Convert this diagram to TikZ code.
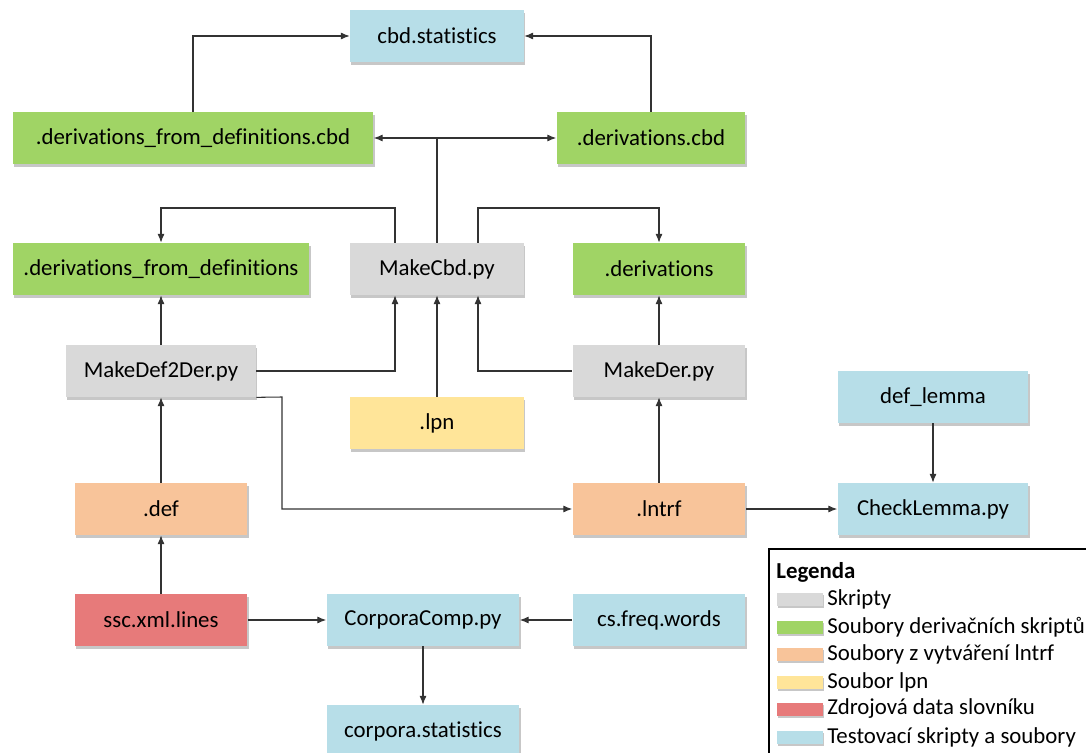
\documentclass[tikz,border=0pt]{standalone}
\usepackage{fontspec}
\setmainfont{Carlito}[Ligatures=NoCommon]
\usetikzlibrary{arrows.meta,calc,shadows}

\definecolor{cblue}{HTML}{B7DEE8}
\definecolor{cgreen}{HTML}{A0D465}
\definecolor{cgray}{HTML}{D9D9D9}
\definecolor{corange}{HTML}{F8C49A}
\definecolor{cyellow}{HTML}{FFE599}
\definecolor{cred}{HTML}{E77A7A}

\begin{document}
\begin{tikzpicture}[x=0.02cm, y=-0.02cm,
  box/.style={rectangle, minimum height=1.04cm, inner sep=0pt,
    font=\fontsize{13}{15}\selectfont,
    drop shadow={shadow xshift=0.6pt, shadow yshift=-1.6pt, fill=black, opacity=0.22}},
  arr/.style={draw=black!80, line width=0.6pt, -{Latex[length=5pt,width=4pt]}}]

\useasboundingbox (0,0) rectangle (1086,753);
\clip (0,0) rectangle (1086,753);

% Boxes placed at pixel coordinates
\node[box, fill=cblue,   minimum width=3.48cm] (stats)    at (437,36)  {cbd.statistics};
\node[box, fill=cgreen,  minimum width=7.22cm] (dfdcbd)   at (193,138) {.derivations\_from\_definitions.cbd};
\node[box, fill=cgreen,  minimum width=3.78cm] (dercbd)   at (651,138) {.derivations.cbd};
\node[box, fill=cgreen,  minimum width=5.94cm] (dfd)      at (161,269) {.derivations\_from\_definitions};
\node[box, fill=cgray,   minimum width=3.48cm] (makecbd)  at (437,269) {MakeCbd.py};
\node[box, fill=cgreen,  minimum width=3.46cm] (der)      at (659,269) {.derivations};
\node[box, fill=cgray,   minimum width=3.80cm] (makedef)  at (161,371) {MakeDef2Der.py};
\node[box, fill=cgray,   minimum width=3.46cm] (makeder)  at (659,371) {MakeDer.py};
\node[box, fill=cyellow, minimum width=3.48cm] (lpn)      at (437,423) {.lpn};
\node[box, fill=cblue,   minimum width=3.82cm] (deflemma) at (933,397) {def\_lemma};
\node[box, fill=corange, minimum width=3.46cm] (def)      at (161,509) {.def};
\node[box, fill=corange, minimum width=3.46cm] (lntrf)    at (659,509) {.lntrf};
\node[box, fill=cblue,   minimum width=3.82cm] (check)    at (933,509) {CheckLemma.py};
\node[box, fill=cred,    minimum width=3.46cm] (ssc)      at (161,620) {ssc.xml.lines};
\node[box, fill=cblue,   minimum width=3.86cm] (corpcomp) at (423,620) {CorporaComp.py};
\node[box, fill=cblue,   minimum width=3.46cm] (csfreq)   at (659,620) {cs.freq.words};
\node[box, fill=cblue,   minimum width=3.86cm] (corpstat) at (423,731) {corpora.statistics};

% Connectors
\draw[arr] (dfdcbd.north) |- (stats.west);
\draw[arr] (dercbd.north) |- (stats.east);
\draw[arr] (makecbd.north) |- (dfdcbd.east);
\draw[arr] (makecbd.north) |- (dercbd.west);
\draw[arr] ($(makecbd.north)+(-42,0)$) |- (161,208) -- (dfd.north);
\draw[arr] ($(makecbd.north)+(41,0)$) |- (659,208) -- (der.north);
\draw[arr] (makedef.north) -- (dfd.south);
\draw[arr] (makedef.east) -| ($(makecbd.south)+(-42,0)$);
\draw[arr] (lpn.north) -- (makecbd.south);
\draw[arr] (makeder.west) -| ($(makecbd.south)+(41,0)$);
\draw[arr] (makeder.north) -- (der.south);
\draw[arr] (makedef.south east) -- (282,397) |- (lntrf.west);
\draw[arr] (def.north) -- (makedef.south);
\draw[arr] (lntrf.north) -- (makeder.south);
\draw[arr] (lntrf.east) -- (check.west);
\draw[arr] (deflemma.south) -- (check.north);
\draw[arr] (ssc.north) -- (def.south);
\draw[arr] (ssc.east) -- (corpcomp.west);
\draw[arr] (csfreq.west) -- (corpcomp.east);
\draw[arr] (corpcomp.south) -- (corpstat.north);

% Legend
\draw[line width=0.6pt] (769,549) rectangle (1100,770);
\node[anchor=west, inner sep=0pt, font=\fontsize{13}{15}\selectfont\bfseries] (leghead) at (776,572) {Legenda};
\foreach \name/\col/\txt/\yy in {l1/cgray/Skripty/599, l2/cgreen/Soubory derivačních skriptů/627,
    l3/corange/Soubory z vytváření lntrf/654, l4/cyellow/Soubor lpn/682,
    l5/cred/Zdrojová data slovníku/709, l6/cblue/Testovací skripty a soubory/737} {
  \node[fill=\col, minimum width=0.92cm, minimum height=0.26cm, inner sep=0pt,
    drop shadow={shadow xshift=0.4pt, shadow yshift=-1.2pt, fill=black, opacity=0.22}] (\name) at (800,\yy) {};
  \node[anchor=west, inner sep=0pt, font=\fontsize{13}{15}\selectfont] (\name txt) at (827,\yy) {\txt};
}

\end{tikzpicture}
\end{document}
